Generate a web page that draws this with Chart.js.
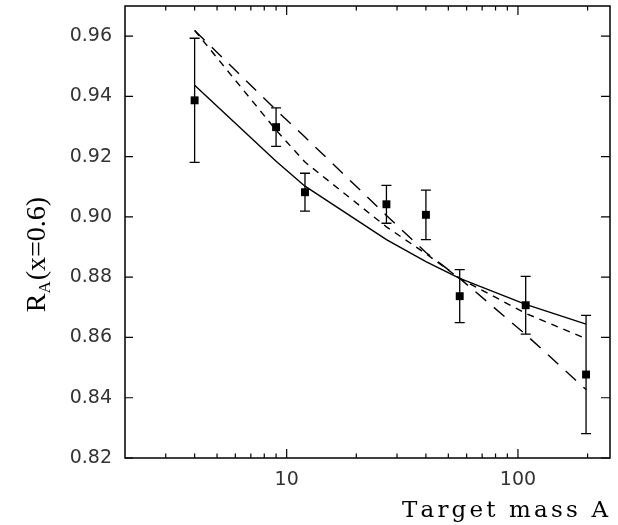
<!DOCTYPE html>
<html><head><meta charset="utf-8">
<script src="https://cdn.jsdelivr.net/npm/chart.js@4.4.1/dist/chart.umd.min.js"></script>
<style>html,body{margin:0;padding:0;background:#fff;}canvas{display:block;}</style>
</head><body>
<canvas id="c" width="618" height="525"></canvas>
<script>
// ---- data ----
const massA          = [4, 9, 12, 27, 40, 56, 108, 197];
const ratioRA        = [0.9387, 0.9298, 0.9082, 0.9042, 0.9007, 0.8737, 0.8707, 0.8477];
const ratioErr       = [0.0206, 0.0064, 0.0063, 0.0063, 0.0082, 0.0088, 0.0096, 0.0196];
const solidCurve     = [0.9437, 0.9185, 0.9102, 0.8925, 0.8852, 0.8796, 0.8710, 0.8644];
const shortDashCurve = [0.9619, 0.9288, 0.9182, 0.8967, 0.8878, 0.8796, 0.8680, 0.8596];
const longDashCurve  = [0.9619, 0.9355, 0.9265, 0.9005, 0.8882, 0.8796, 0.8610, 0.8427];
const yTickValues    = [0.82, 0.84, 0.86, 0.88, 0.90, 0.92, 0.94, 0.96];
const xMajorTicks    = [10, 100];
const xMinorTicks    = [3, 4, 5, 6, 7, 8, 9, 20, 30, 40, 50, 60, 70, 80, 90, 200];
const xTitle = 'Target mass A';
const yTitleMain = 'R', yTitleSub = 'A', yTitleRest = '(x=0.6)';

const toPts = arr => massA.map((a, i) => ({x: a, y: arr[i]}));

const decor = {
  id: 'decor',
  beforeDatasetsDraw(chart) {
    const {ctx, scales: {x, y}} = chart;
    ctx.save();
    ctx.strokeStyle = '#000';
    ctx.lineWidth = 1.3;
    ctx.beginPath();
    massA.forEach((a, i) => {
      const px = x.getPixelForValue(a);
      const yt = y.getPixelForValue(ratioRA[i] + ratioErr[i]);
      const yb = y.getPixelForValue(ratioRA[i] - ratioErr[i]);
      ctx.moveTo(px, yt); ctx.lineTo(px, yb);
      ctx.moveTo(px - 5, yt); ctx.lineTo(px + 5, yt);
      ctx.moveTo(px - 5, yb); ctx.lineTo(px + 5, yb);
    });
    ctx.stroke();
    ctx.restore();
  },
  afterDraw(chart) {
    const {ctx, chartArea: ca, scales: {x, y}} = chart;
    ctx.save();
    ctx.strokeStyle = '#000';
    ctx.lineWidth = 1.5;
    ctx.strokeRect(ca.left, ca.top, ca.right - ca.left, ca.bottom - ca.top);
    ctx.lineWidth = 1.2;
    ctx.beginPath();
    yTickValues.forEach(v => {
      const py = y.getPixelForValue(v);
      ctx.moveTo(ca.left, py); ctx.lineTo(ca.left + 8, py);
      ctx.moveTo(ca.right, py); ctx.lineTo(ca.right - 9, py);
    });
    xMajorTicks.forEach(v => {
      const px = x.getPixelForValue(v);
      ctx.moveTo(px, ca.bottom); ctx.lineTo(px, ca.bottom - 9);
      ctx.moveTo(px, ca.top); ctx.lineTo(px, ca.top + 9);
    });
    xMinorTicks.forEach(v => {
      const px = x.getPixelForValue(v);
      ctx.moveTo(px, ca.bottom); ctx.lineTo(px, ca.bottom - 4.5);
      ctx.moveTo(px, ca.top); ctx.lineTo(px, ca.top + 4.5);
    });
    ctx.stroke();

    // x title, tracked serif, right aligned
    ctx.fillStyle = '#000';
    ctx.font = '23px "DejaVu Serif"';
    ctx.textBaseline = 'alphabetic';
    ctx.textAlign = 'left';
    const chars = xTitle.split('');
    const w0 = chars.reduce((s, ch) => s + ctx.measureText(ch).width, 0);
    const targetW = 206;
    const sp = (targetW - w0) / (chars.length - 1);
    let cx = 608 - targetW;
    chars.forEach(ch => { ctx.fillText(ch, cx, 517); cx += ctx.measureText(ch).width + sp; });

    // y title, rotated, with subscript
    ctx.translate(45, 255);
    ctx.rotate(-Math.PI / 2);
    ctx.font = '28px "Liberation Serif"';
    const wR = ctx.measureText(yTitleMain).width;
    const wRest = ctx.measureText(yTitleRest).width;
    ctx.font = '17px "Liberation Serif"';
    const wA = ctx.measureText(yTitleSub).width;
    const total = wR + wA + wRest;
    let sx = -total / 2;
    ctx.font = '28px "Liberation Serif"';
    ctx.fillText(yTitleMain, sx, 0);
    ctx.font = '17px "Liberation Serif"';
    ctx.fillText(yTitleSub, sx + wR, 5);
    ctx.font = '28px "Liberation Serif"';
    ctx.fillText(yTitleRest, sx + wR + wA + 1, 0);
    ctx.restore();
  }
};

new Chart(document.getElementById('c'), {
  type: 'scatter',
  data: {
    datasets: [
      {label: 'data', data: toPts(ratioRA), showLine: false, pointStyle: 'rect',
       pointRadius: 5.6, pointHoverRadius: 5.6, backgroundColor: '#000', borderColor: '#000', borderWidth: 0},
      {label: 'solid', data: toPts(solidCurve), showLine: true, pointRadius: 0,
       borderColor: '#000', borderWidth: 1.4, fill: false, tension: 0},
      {label: 'short dash', data: toPts(shortDashCurve), showLine: true, pointRadius: 0,
       borderColor: '#000', borderWidth: 1.4, borderDash: [7, 6], fill: false, tension: 0},
      {label: 'long dash', data: toPts(longDashCurve), showLine: true, pointRadius: 0,
       borderColor: '#000', borderWidth: 1.4, borderDash: [14, 10], fill: false, tension: 0}
    ]
  },
  options: {
    responsive: false,
    animation: false,
    events: [],
    layout: {padding: {left: 0, right: 8, top: 6, bottom: 0}},
    plugins: {legend: {display: false}, tooltip: {enabled: false}},
    scales: {
      x: {
        type: 'logarithmic', min: 2, max: 250, position: 'bottom',
        grid: {display: false, drawTicks: false}, border: {display: false},
        ticks: {autoSkip: false, maxRotation: 0, minRotation: 0, padding: 11, color: '#333',
                font: {family: 'DejaVu Sans', size: 19},
                callback: v => xMajorTicks.includes(v) ? String(v) : ''},
        afterBuildTicks: s => {
          s.ticks = [...xMajorTicks, ...xMinorTicks].sort((a, b) => a - b).map(v => ({value: v}));
        },
        afterFit: s => { s.height = 67; s.paddingLeft = 0; s.paddingRight = 0; }
      },
      y: {
        type: 'linear', min: 0.82, max: 0.97,
        grid: {display: false, drawTicks: false}, border: {display: false},
        ticks: {padding: 13, color: '#333', font: {family: 'DejaVu Sans', size: 19},
                callback: v => Number(v).toFixed(2)},
        afterBuildTicks: s => { s.ticks = yTickValues.map(v => ({value: v})); },
        afterFit: s => { s.width = 125; s.paddingTop = 0; s.paddingBottom = 0; }
      }
    }
  },
  plugins: [decor]
});
</script>
</body></html>
